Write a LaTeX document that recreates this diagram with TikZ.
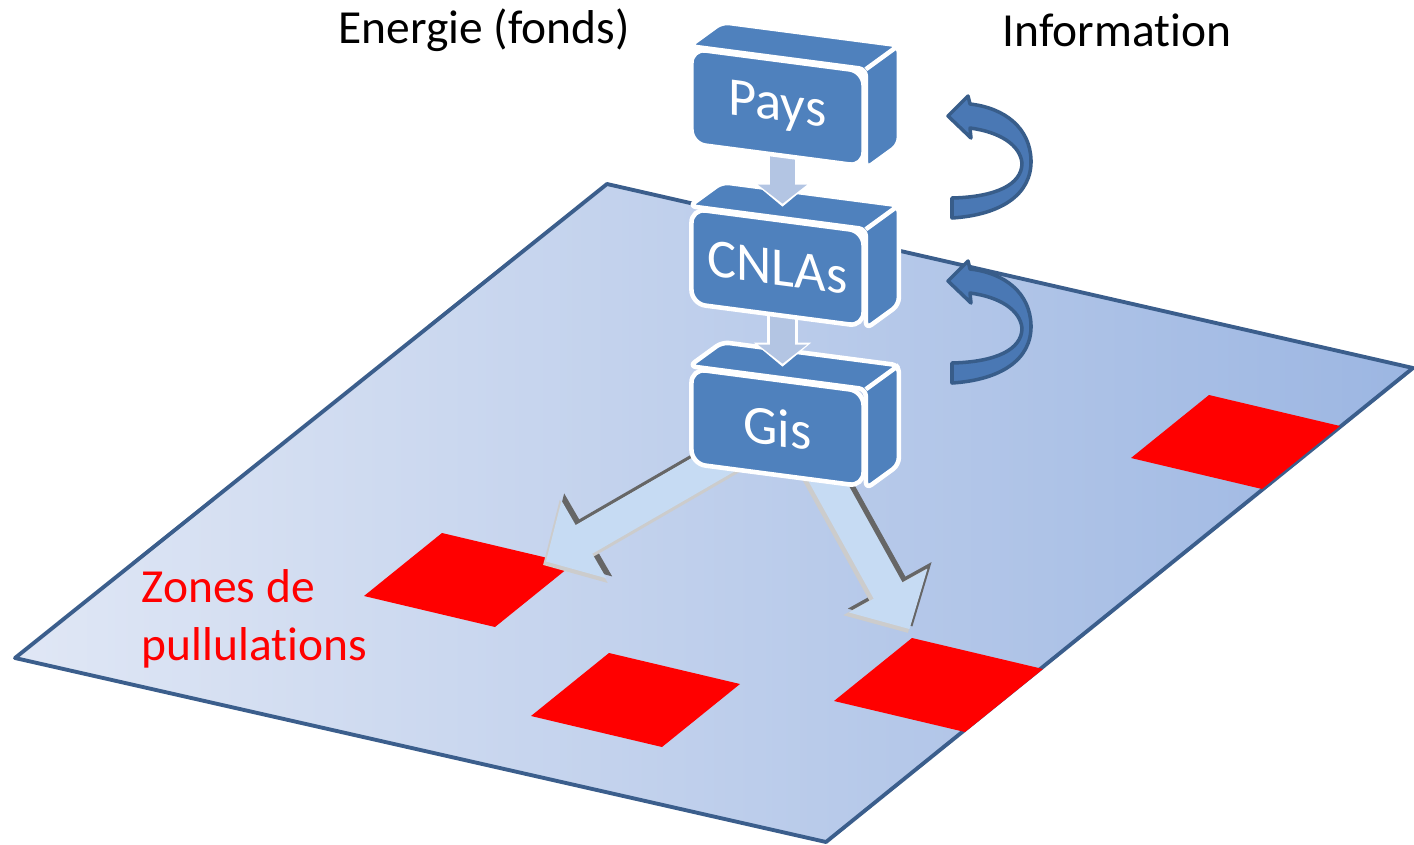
\documentclass[tikz,border=0pt]{standalone}
\usepackage{fontspec}
\setmainfont{Carlito}[Ligatures=NoCommon]
\usetikzlibrary{arrows.meta}

\definecolor{boxblue}{HTML}{4F81BD}
\definecolor{planleft}{HTML}{E0E7F5}
\definecolor{planright}{HTML}{9CB6E2}
\definecolor{planborder}{HTML}{3B5E8C}
\definecolor{flechebleu}{HTML}{C6DBF3}
\definecolor{descbleu}{HTML}{B3C5E3}
\definecolor{courbebleu}{HTML}{4A78B4}
\definecolor{courbebord}{HTML}{385D8A}

\pgfdeclarelayer{plan}
\pgfdeclarelayer{fleche}
\pgfdeclarelayer{gis}
\pgfdeclarelayer{desc2}
\pgfdeclarelayer{cnlas}
\pgfdeclarelayer{desc1}
\pgfsetlayers{plan,fleche,gis,desc2,cnlas,desc1,main}

\newcommand{\boite}[3]{%
  \node[boite] (#1) at (#2) {#3};
  \draw[face] (#1.north west) -- ++(33,-24) -- ([shift={(33,-24)}]#1.north east)
    -- ([shift={(33,-24)}]#1.south east) -- (#1.south east) -- (#1.north east) -- cycle;
  \draw[face] (#1.north east) -- ++(33,-24);
}
\newcommand{\flechegis}[2]{%
  \draw[line width=0.36cm, draw=black!60, -{Triangle[length=0.47cm,width=0.93cm]}]
    ([shift={(2.5,-3.5)}]#1) -- ([shift={(2.5,-3.5)}]#2);
  \draw[line width=0.36cm, draw=gray!40, -{Triangle[length=0.47cm,width=0.93cm]}]
    ([shift={(-2,3)}]#1) -- ([shift={(-2,3)}]#2);
  \draw[line width=0.33cm, draw=flechebleu, -{Triangle[length=0.44cm,width=0.87cm]}, shorten >=0.01cm]
    (#1) -- (#2);
}
\newcommand{\descente}[2]{%
  \draw[line width=0.3cm, draw=white, -{Triangle[length=0.24cm,width=0.56cm]}] (#1) -- (#2);
  \draw[line width=0.24cm, draw=descbleu, -{Triangle[length=0.19cm,width=0.48cm]}, shorten >=0.03cm] (#1) -- (#2);
}

\begin{document}
\begin{tikzpicture}[x=0.01cm, y=-0.01cm,
    boite/.style={rectangle, rounded corners=4pt, fill=boxblue, draw=white, line width=1.3pt,
      minimum width=1.72cm, minimum height=0.95cm, inner sep=0pt, yslant=-0.131,
      text=white, font=\fontsize{15.5}{18}\selectfont},
    face/.style={fill=boxblue, draw=white, line width=1.3pt, line join=round, rounded corners=2pt},
    zone/.style={fill=red},
    titre/.style={font=\fontsize{13.5}{16.5}\selectfont},
    courbe/.style={fill=courbebleu, draw=courbebord, line width=1pt, line join=round}]
  \useasboundingbox (0,0) rectangle (1414,845);

  \begin{pgfonlayer}{plan}
    \shade[left color=planleft, right color=planright] (607,184) -- (1413,368) -- (826,842) -- (15,658) -- cycle;
    \draw[planborder, line width=1.1pt, line join=round] (607,184) -- (1413,368) -- (826,842) -- (15,658) -- cycle;
    \foreach \x/\y in {364/596, 531/716, 834/701, 1131/458}
      \fill[zone] (\x,\y) -- ++(78,-63) -- ++(131,31) -- ++(-78,63) -- cycle;
  \end{pgfonlayer}

  \begin{pgfonlayer}{gis}
    \boite{gis}{777.5,427.5}{Gis}
  \end{pgfonlayer}
  \begin{pgfonlayer}{cnlas}
    \boite{cnlas}{777.5,267.5}{CNLAs}
  \end{pgfonlayer}
  \boite{pays}{777.5,107.5}{Pays}

  \coordinate (gisd) at ([xshift=0.2cm]gis.center);
  \coordinate (tip1) at (545,562);
  \coordinate (tip2) at (910,630);
  \begin{pgfonlayer}{fleche}
    \flechegis{gis.center}{tip1}
    \flechegis{gisd}{tip2}
  \end{pgfonlayer}

  \begin{pgfonlayer}{desc1}
    \descente{[xshift=0.05cm]pays.center}{[xshift=0.05cm,yshift=0.11cm]cnlas.north}
  \end{pgfonlayer}
  \begin{pgfonlayer}{desc2}
    \descente{[xshift=0.05cm]cnlas.center}{[xshift=0.05cm,yshift=0.11cm]gis.north}
  \end{pgfonlayer}

  \foreach \dy in {0,165}
    \filldraw[courbe, shift={(0,\dy)}] (952,218) .. controls (1000,215) and (1032,195) .. (1031,160)
      .. controls (1030,128) and (1005,108) .. (970,104) -- (968,96) -- (948,116) -- (971,138) -- (970,128)
      .. controls (1000,132) and (1020,145) .. (1022,163) .. controls (1022,185) and (995,197) .. (952,198) -- cycle;

  \node[titre] (energie) at (484,30) {Energie (fonds)};
  \node[titre] (info) at (1117,30) {Information};
  \node[titre, text=red, align=left, anchor=west, inner sep=0pt] (zones) at (141,619) {Zones de\\pullulations};
\end{tikzpicture}
\end{document}
